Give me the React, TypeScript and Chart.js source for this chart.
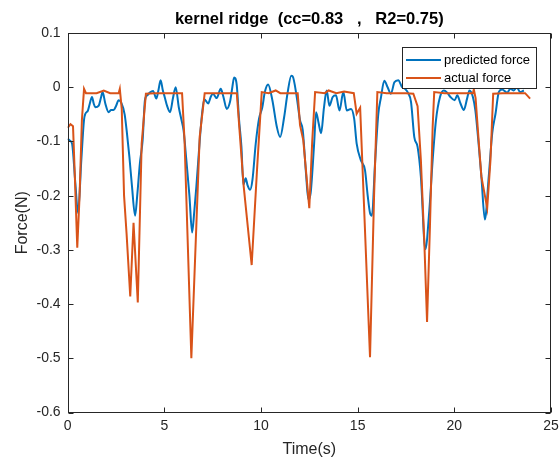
import React, { useEffect, useRef } from 'react';
import { Chart, registerables } from 'chart.js';

Chart.register(...registerables);

const chartTitle = 'kernel ridge  (cc=0.83   ,   R2=0.75)';
const xAxisLabel = 'Time(s)';
const yAxisLabel = 'Force(N)';
const seriesNames = ['predicted force', 'actual force'];
const xTicks = [0, 5, 10, 15, 20, 25];
const yTicks = [0.1, 0, -0.1, -0.2, -0.3, -0.4, -0.5, -0.6];

const predTime = [
  0.0, 0.1, 0.23, 0.4, 0.54, 0.71, 0.85, 0.92, 1.05, 1.15, 1.26, 1.35, 1.43, 1.61, 1.72, 1.81, 1.95, 2.12, 2.25, 2.38,
  2.5, 2.64, 2.78, 2.95, 3.07, 3.2, 3.33, 3.49, 3.6, 3.74, 3.88, 4.0, 4.12, 4.25, 4.42, 4.59, 4.7, 4.81, 4.92, 5.02,
  5.15, 5.3, 5.45, 5.59, 5.75, 5.9, 6.0, 6.14, 6.3, 6.44, 6.55, 6.66, 6.83, 6.95, 7.07, 7.27, 7.4, 7.52, 7.71, 7.92,
  8.06, 8.23, 8.4, 8.52, 8.61, 8.75, 8.87, 8.99, 9.09, 9.21, 9.3, 9.44, 9.56, 9.73, 9.9, 10.07, 10.2, 10.37, 10.59, 10.82,
  10.99, 11.2, 11.37, 11.57, 11.64, 11.85, 12.02, 12.16, 12.33, 12.45, 12.57, 12.75, 12.85, 12.97, 13.11, 13.26, 13.4, 13.54, 13.71, 13.88,
  14.06, 14.26, 14.44, 14.66, 14.82, 14.95, 15.16, 15.38, 15.52, 15.64, 15.74, 15.9, 16.07, 16.2, 16.38, 16.55, 16.72, 16.9, 17.1, 17.3,
  17.45, 17.6, 17.76, 17.93, 18.1, 18.27, 18.5, 18.71, 18.88, 19.05, 19.26, 19.46, 19.63, 19.8, 20.02, 20.15, 20.32, 20.49, 20.66, 20.78,
  20.96, 21.09, 21.27, 21.4, 21.58, 21.78, 21.96, 22.13, 22.3, 22.47, 22.73, 22.9, 23.08, 23.23, 23.4, 23.6,
];
const predForce = [
  -0.095, -0.098, -0.104, -0.177, -0.232, -0.134, -0.06, -0.049, -0.043, -0.03, -0.018, -0.03, -0.037, -0.034, -0.02, -0.009, -0.03, -0.046, -0.042, -0.042,
  -0.035, -0.024, -0.029, -0.05, -0.085, -0.13, -0.183, -0.237, -0.2, -0.14, -0.098, -0.024, -0.015, -0.01, -0.007, -0.021, -0.005, 0.013, -0.005, -0.018,
  -0.035, -0.046, -0.02, 0.0, -0.037, -0.062, -0.08, -0.134, -0.2, -0.268, -0.23, -0.183, -0.1, -0.05, -0.022, -0.03, -0.018, -0.012, -0.02, -0.003,
  -0.018, -0.04, -0.027, 0.0, 0.018, 0.003, -0.061, -0.11, -0.18, -0.168, -0.18, -0.189, -0.171, -0.104, -0.058, -0.037, -0.009, 0.005, -0.024, -0.073,
  -0.092, -0.055, -0.012, 0.021, 0.02, -0.018, -0.061, -0.079, -0.159, -0.207, -0.195, -0.104, -0.046, -0.064, -0.085, -0.037, -0.006, -0.034, -0.018, -0.015,
  -0.043, -0.009, -0.043, -0.04, -0.058, -0.104, -0.134, -0.153, -0.2, -0.232, -0.237, -0.14, -0.049, -0.02, 0.012, 0.0, -0.012, 0.009, 0.013, 0.0,
  -0.003, -0.01, -0.027, -0.092, -0.11, -0.165, -0.299, -0.226, -0.134, -0.061, -0.018, -0.006, -0.01, -0.018, -0.024, -0.015, -0.03, -0.042, -0.021, -0.006,
  -0.018, -0.043, -0.11, -0.165, -0.244, -0.165, -0.085, -0.049, -0.009, -0.004, -0.01, -0.003, -0.006, 0.0, -0.009, -0.006,
];

const actualTime = [
  0.0, 0.15, 0.28, 0.36, 0.5, 0.62, 0.74, 0.85, 0.95, 1.5, 1.87, 2.2, 2.64, 2.7, 2.8, 2.92, 3.05, 3.24, 3.41, 3.63,
  3.83, 4.05, 4.5, 5.0, 5.5, 5.92, 6.05, 6.4, 6.83, 7.09, 7.5, 8.0, 8.5, 8.75, 9.1, 9.52, 9.8, 10.04, 10.4, 10.76,
  11.0, 11.5, 11.9, 12.02, 12.19, 12.5, 12.65, 12.8, 13.3, 13.5, 13.9, 14.3, 14.8, 14.95, 15.13, 15.64, 15.85, 16.02, 16.5, 17.0,
  17.5, 17.88, 18.1, 18.27, 18.45, 18.59, 18.74, 18.88, 18.96, 19.5, 20.0, 20.5, 20.96, 21.01, 21.1, 21.27, 21.4, 21.7, 21.87, 22.01,
  22.5, 23.0, 23.66, 23.92,
];
const actualForce = [
  -0.075, -0.068, -0.072, -0.15, -0.296, -0.2, -0.06, -0.003, -0.011, -0.011, -0.006, -0.011, -0.011, -0.003, -0.04, -0.2, -0.27, -0.386, -0.25, -0.397,
  -0.104, -0.012, -0.011, -0.011, -0.011, -0.011, -0.1, -0.5, -0.092, -0.011, -0.011, -0.011, -0.011, -0.011, -0.18, -0.328, -0.15, -0.009, -0.011, -0.006,
  -0.011, -0.011, -0.011, -0.07, -0.098, -0.223, -0.1, -0.009, -0.011, -0.006, -0.011, -0.008, -0.011, -0.049, -0.038, -0.498, -0.2, -0.009, -0.011, -0.011,
  -0.011, -0.012, -0.035, -0.134, -0.287, -0.433, -0.256, -0.073, -0.009, -0.011, -0.011, -0.011, -0.011, -0.004, -0.02, -0.104, -0.165, -0.223, -0.134, -0.012,
  -0.011, -0.011, -0.011, -0.021,
];

const BLUE = '#0072BD';
const ORANGE = '#D95319';
const AXIS = '#262626';
const FONT = "'Liberation Sans', Arial, Helvetica, sans-serif";

const boxPlugin = {
  id: 'matlabBox',
  afterDraw(chart: any) {
    const { ctx, chartArea } = chart;
    const xs = chart.scales.x;
    const ys = chart.scales.y;
    const L = Math.round(chartArea.left) + 0.5;
    const R = Math.round(chartArea.right) - 0.5;
    const T = Math.round(chartArea.top) + 0.5;
    const B = Math.round(chartArea.bottom) - 0.5;
    ctx.save();

    // title centred over the plot box
    ctx.fillStyle = '#000000';
    ctx.font = `bold 16.5px ${FONT}`;
    ctx.textAlign = 'center';
    ctx.textBaseline = 'middle';
    ctx.fillText(chartTitle, (chartArea.left + chartArea.right) / 2, 19);

    ctx.strokeStyle = AXIS;
    ctx.lineWidth = 1;
    ctx.strokeRect(L, T, R - L, B - T);
    const tl = 5;
    ctx.beginPath();
    xTicks.forEach((v) => {
      const px = Math.round(xs.getPixelForValue(v)) + 0.5;
      ctx.moveTo(px, B);
      ctx.lineTo(px, B - tl);
      ctx.moveTo(px, T);
      ctx.lineTo(px, T + tl);
    });
    yTicks.forEach((v) => {
      const py = Math.round(ys.getPixelForValue(v)) + 0.5;
      ctx.moveTo(L, py);
      ctx.lineTo(L + tl, py);
      ctx.moveTo(R, py);
      ctx.lineTo(R - tl, py);
    });
    ctx.stroke();

    // legend
    const lx = 402.5, ly = 47.5, lw = 134, lh = 41;
    ctx.fillStyle = '#ffffff';
    ctx.fillRect(lx, ly, lw, lh);
    ctx.strokeStyle = AXIS;
    ctx.lineWidth = 1;
    ctx.strokeRect(lx, ly, lw, lh);
    const colors = [BLUE, ORANGE];
    const rowY = [60, 78];
    ctx.font = `13px ${FONT}`;
    ctx.textBaseline = 'middle';
    ctx.textAlign = 'left';
    seriesNames.forEach((name, i) => {
      ctx.strokeStyle = colors[i];
      ctx.lineWidth = 2;
      ctx.beginPath();
      ctx.moveTo(406, rowY[i]);
      ctx.lineTo(441, rowY[i]);
      ctx.stroke();
      ctx.fillStyle = '#000000';
      ctx.fillText(name, 444, rowY[i] + 0.5);
    });
    ctx.restore();
  },
};

export default function App() {
  const canvasRef = useRef<HTMLCanvasElement | null>(null);

  useEffect(() => {
    if (!canvasRef.current) return;
    const chart = new Chart(canvasRef.current, {
      type: 'line',
      data: {
        datasets: [
          {
            label: seriesNames[1],
            data: actualTime.map((t, i) => ({ x: t, y: actualForce[i] })),
            borderColor: ORANGE,
            backgroundColor: ORANGE,
            borderWidth: 2,
            pointRadius: 0,
            tension: 0,
            fill: false,
            order: 0,
          },
          {
            label: seriesNames[0],
            data: predTime.map((t, i) => ({ x: t, y: predForce[i] })),
            borderColor: BLUE,
            backgroundColor: BLUE,
            borderWidth: 2,
            pointRadius: 0,
            cubicInterpolationMode: 'monotone',
            fill: false,
            order: 1,
          },
        ],
      },
      options: {
        responsive: false,
        animation: false,
        devicePixelRatio: 1,
        layout: { padding: { left: 0, right: 9, top: 33, bottom: 0 } },
        plugins: {
          legend: { display: false },
          tooltip: { enabled: false },
          title: { display: false },
        },
        scales: {
          x: {
            type: 'linear',
            min: 0,
            max: 25,
            afterBuildTicks: (axis: any) => {
              axis.ticks = xTicks.map((v) => ({ value: v }));
            },
            afterFit: (axis: any) => {
              axis.height = 46.5;
              axis.paddingLeft = 0;
              axis.paddingRight = 0;
            },
            grid: { display: false, drawTicks: false },
            border: { display: false },
            ticks: {
              color: AXIS,
              font: { family: FONT, size: 14 },
              padding: 5,
              maxRotation: 0,
              autoSkip: false,
              callback: (v: any) => String(v),
            },
            title: {
              display: true,
              text: xAxisLabel,
              color: AXIS,
              font: { family: FONT, size: 16, lineHeight: 1 },
              padding: { top: 0, bottom: 1 },
            },
          },
          y: {
            type: 'linear',
            min: -0.6,
            max: 0.1,
            afterBuildTicks: (axis: any) => {
              axis.ticks = yTicks.map((v) => ({ value: v }));
            },
            afterFit: (axis: any) => {
              axis.width = 67.6;
              axis.paddingTop = 0;
              axis.paddingBottom = 0;
            },
            grid: { display: false, drawTicks: false },
            border: { display: false },
            ticks: {
              color: AXIS,
              font: { family: FONT, size: 14 },
              padding: 7,
              autoSkip: false,
              callback: (v: any) => String(Math.round(Number(v) * 10) / 10),
            },
            title: {
              display: true,
              text: yAxisLabel,
              color: AXIS,
              font: { family: FONT, size: 16 },
              padding: { top: 13, bottom: 0 },
            },
          },
        },
      },
      plugins: [boxPlugin],
    } as any);
    return () => chart.destroy();
  }, []);

  return (
    <div style={{ position: 'fixed', left: 0, top: 0, width: 560, height: 459, background: '#ffffff' }}>
      <canvas ref={canvasRef} width={560} height={459} style={{ display: 'block', width: 560, height: 459 }} />
    </div>
  );
}
